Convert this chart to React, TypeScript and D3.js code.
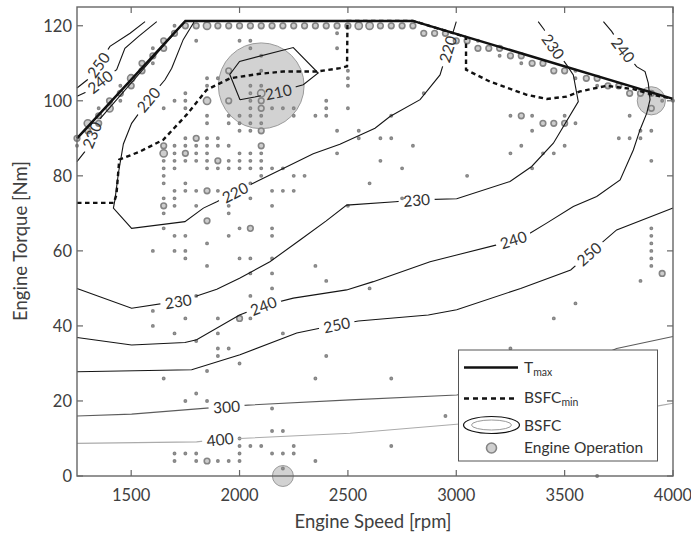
import React from 'react';
import * as d3 from 'd3';

const W = 691;
const H = 538;
const xDomain: [number, number] = [1250, 4000];
const yDomain: [number, number] = [0, 125];
const xTicks = [1500, 2000, 2500, 3000, 3500, 4000];
const yTicks = [0, 20, 40, 60, 80, 100, 120];
const xTitle = 'Engine Speed [rpm]';
const yTitle = 'Engine Torque [Nm]';

// Max torque curve [rpm, Nm]
const tmaxCurve: [number, number][] = [[1250, 90], [1750, 121.3], [2800, 121.3], [4000, 100.5]];

// Minimum BSFC line [rpm, Nm]
const bsfcMinCurve: [number, number][] = [
  [1250, 72.8], [1420, 72.8], [1432, 75], [1445, 84.3], [1541, 86.5], [1648, 89.6], [1756, 96.3],
  [1848, 102.9], [1956, 106], [2094, 107.2], [2202, 107.8], [2356, 107.8], [2463, 108.7],
  [2496, 109.2], [2498, 121.3], [2800, 121.3], [3045, 117], [3045, 108.3], [3156, 105.1],
  [3325, 101.6], [3417, 100.5], [3509, 101.1], [3571, 102.5], [3694, 104], [3817, 103.1],
  [3909, 101.6], [4000, 100.5],
];

// BSFC contour lines [rpm, Nm]
const c210: [number, number][] = [[2002, 100.3], [2070, 101], [2179, 102.4], [2294, 104.3], [2363, 107.4], [2248, 114.2], [2000, 110.5], [1955, 107], [2002, 100.3]];
const c220: [number, number][] = [
  [1790, 121], [1740, 116.3], [1687, 108.7], [1656, 105.6], [1579, 100.3], [1541, 97.1], [1502, 94],
  [1464, 88.5], [1441, 80.7], [1425, 73.6], [1418, 71.4], [1502, 66], [1748, 67.8], [1833, 71.4],
  [1895, 73.1], [1979, 75.6], [2079, 78.5], [2340, 85.9], [2463, 88.4], [2625, 92.7], [2694, 95.8],
  [2833, 100.3], [2925, 106.9], [2960, 113.5], [3000, 121.1],
];
const c230a: [number, number][] = [[1250, 83.8], [1287, 86.5], [1318, 90.9], [1356, 95.2], [1745, 121]];
const c230b: [number, number][] = [
  [1250, 50], [1502, 44.7], [1717, 46.6], [1802, 48], [1895, 49.8], [2000, 52.7], [2140, 57.1],
  [2279, 62.9], [2400, 68], [2494, 72.2], [2718, 73.1], [2817, 73.6], [3002, 73.9], [3248, 78.5],
  [3348, 82.5], [3448, 88.7], [3563, 99.8], [3540, 106.9], [3510, 109.5], [3448, 114.5], [3405, 119],
  [3378, 121.1],
];
const c240a: [number, number][] = [[1250, 101.2], [1298, 102.5], [1356, 105.1], [1433, 108.3], [1471, 114], [1533, 117.1], [1618, 121.1]];
const c240b: [number, number][] = [
  [1250, 36.9], [1502, 34.9], [1748, 35.6], [1802, 36.3], [2000, 42.9], [2110, 45.4], [2248, 47.4],
  [2494, 49.6], [2617, 51.8], [2879, 57.1], [3002, 58.9], [3187, 61.6], [3263, 63], [3340, 64.7],
  [3417, 67.4], [3540, 71.8], [3648, 74.5], [3756, 78.9], [3817, 86.9], [3848, 92.3], [3879, 96.7],
  [3894, 100.3], [3886, 104.7], [3871, 107.8], [3832, 109.1], [3771, 113.6], [3717, 118.5], [3679, 121.1],
];
const c250a: [number, number][] = [[1250, 103.4], [1298, 105.6], [1348, 109.6], [1402, 114.5], [1495, 118], [1564, 121.1]];
const c250b: [number, number][] = [
  [1250, 27.8], [1779, 28.3], [2002, 32.3], [2264, 38.1], [2448, 40.3], [2548, 41.3], [2871, 42.9],
  [3002, 44.3], [3297, 50], [3528, 54.9], [3612, 59.2], [3740, 65.6], [4000, 71.4],
];
const c300: [number, number][] = [[1250, 16], [1502, 16.5], [1848, 18.1], [1940, 18.5], [2040, 18.9], [2510, 20.3], [3002, 21.6], [3400, 26], [3600, 30.5], [3740, 34], [4000, 37.2]];
const c400: [number, number][] = [[1250, 8.7], [1802, 9.1], [1910, 9.8], [2000, 10], [2510, 11.4], [3002, 13.8], [3932, 18.7], [4000, 19.4]];

const contourLevels = [210, 220, 230, 230, 240, 240, 250, 250, 300, 400];
const contourPaths = [c210, c220, c230a, c230b, c240a, c240b, c250a, c250b, c300, c400];

// Contour label anchors: [contour index, rpm, Nm]
const contourLabelAt: [number, number, number][] = [
  [0, 2179, 102.4], [1, 1579, 100.3], [1, 1979, 75.6], [1, 2960, 113.8], [2, 1318, 90.9],
  [3, 1717, 46.6], [3, 2817, 73.6], [3, 3448, 114.5], [4, 1356, 105.1], [5, 2110, 45.4],
  [5, 3263, 63], [5, 3771, 113.6], [6, 1348, 109.6], [7, 2448, 40.3], [7, 3612, 59.2],
  [8, 1940, 18.5], [9, 1910, 9.8],
];

// Engine operating points: [rpm, Nm, frequency weight]
const opPoints: [number, number, number][] = [
  [2100, 104, 1390], [3900, 100, 150], [2200, 0, 83],
  [1700, 120, 1], [1750, 120, 6], [1800, 120, 6], [1850, 120, 10], [1900, 120, 6], [1950, 120, 6],
  [2000, 120, 6], [2050, 120, 6], [2100, 120, 6], [2150, 120, 6], [2200, 120, 6], [2250, 120, 6],
  [2300, 120, 6], [2350, 120, 6], [2400, 120, 6], [2450, 120, 6], [2500, 120, 6], [2550, 120, 10],
  [2600, 120, 10], [2650, 120, 6], [2700, 120, 6], [2750, 120, 6], [2800, 120, 6],
  [2850, 118, 6], [2900, 118, 6], [2950, 118, 6], [3000, 116, 6], [3050, 116, 6], [3100, 116, 1],
  [3100, 114, 6], [3150, 114, 6], [3200, 114, 6], [3200, 112, 1], [3250, 112, 6], [3300, 112, 6],
  [3300, 110, 1], [3350, 110, 6], [3400, 110, 6], [3450, 108, 6], [3500, 108, 6], [3550, 108, 1],
  [3550, 106, 1], [3600, 106, 6], [3650, 106, 6], [3650, 104, 1], [3700, 104, 6], [3750, 104, 6],
  [3800, 102, 6], [3850, 102, 6], [3900, 102, 6], [3900, 98, 6], [3950, 100, 1], [4000, 100, 1],
  [3800, 96, 1], [3850, 92, 1], [3900, 92, 1], [3750, 90, 1], [3800, 90, 1], [3850, 90, 1],
  [3900, 84, 1], [3250, 96, 1], [3300, 96, 6], [3350, 96, 1], [3500, 96, 1], [3400, 94, 6],
  [3450, 94, 6], [3500, 94, 6], [3550, 94, 1], [3350, 92, 1], [3300, 88, 1], [3500, 88, 1],
  [3250, 86, 1], [3400, 86, 1], [3450, 86, 1], [3350, 82, 1], [3050, 80, 1], [2850, 102, 1],
  [2700, 96, 1], [2550, 92, 1], [2550, 90, 1], [2650, 90, 1], [2700, 90, 1], [2800, 88, 1],
  [2650, 84, 1], [2750, 82, 1], [2600, 78, 1], [2750, 74, 1], [2500, 108, 1], [2500, 106, 1],
  [2500, 104, 1], [2500, 98, 1], [2450, 118, 1], [2450, 114, 1], [2400, 100, 1], [2400, 98, 1],
  [2400, 96, 1], [2350, 96, 1], [2250, 96, 1], [2450, 92, 1], [2450, 86, 1], [2250, 80, 1],
  [2300, 80, 1], [2250, 76, 1], [2500, 72, 1],
  [3900, 66, 1], [3900, 64, 1], [3900, 62, 1], [3900, 60, 1], [3900, 58, 1], [3900, 56, 1],
  [3950, 54, 6], [3850, 52, 1], [3550, 46, 1], [3450, 42, 1], [3250, 34, 1], [2600, 50, 1],
  [2700, 26, 1], [2950, 16, 1], [2700, 8, 1], [3650, 0, 1],
  [1800, 116, 1], [2000, 116, 1], [2050, 116, 1], [2050, 114, 1], [2100, 112, 1], [1950, 108, 6],
  [2100, 108, 1], [1850, 106, 1], [1900, 106, 1], [1850, 104, 1], [2050, 104, 1], [2100, 104, 1],
  [1750, 102, 1], [2050, 102, 1], [2100, 102, 10], [1700, 100, 1], [1750, 100, 1], [1850, 100, 10],
  [1950, 100, 6], [2050, 100, 1], [2100, 100, 6], [1650, 98, 1], [1750, 98, 1], [2050, 98, 1],
  [2100, 98, 6], [2150, 98, 1], [2200, 98, 1], [2250, 98, 1],
  [1850, 96, 1], [1950, 96, 1], [2000, 96, 1], [2050, 96, 1], [2100, 96, 1],
  [1850, 94, 1], [1950, 94, 1], [2000, 94, 1], [2050, 94, 1], [2100, 94, 1],
  [2000, 92, 1], [2050, 92, 1], [2100, 92, 6],
  [1750, 90, 1], [1800, 90, 6], [1850, 90, 1], [1900, 90, 1],
  [1650, 88, 6], [1700, 88, 1], [1750, 88, 1], [1800, 88, 1], [1850, 88, 1], [1900, 88, 1],
  [1950, 88, 1], [2100, 88, 6],
  [1650, 86, 10], [1700, 86, 1], [1750, 86, 6], [1800, 86, 1], [1850, 86, 1], [2000, 86, 1],
  [2050, 86, 1], [2100, 86, 1],
  [1650, 84, 1], [1700, 84, 1], [1750, 84, 1], [1800, 84, 1], [1850, 84, 1], [1900, 84, 6],
  [1950, 84, 1], [2000, 84, 1], [2050, 84, 1], [2100, 84, 1],
  [1650, 82, 1], [1700, 82, 1], [1850, 82, 1], [1900, 82, 1], [1950, 82, 1], [2000, 82, 1],
  [2050, 82, 1], [2100, 82, 1], [2150, 82, 1], [2200, 82, 1],
  [1650, 80, 1], [2100, 80, 1], [1650, 78, 1], [1750, 78, 1], [2050, 78, 1],
  [1700, 76, 1], [1750, 76, 1], [1800, 76, 1], [1850, 76, 6], [1900, 76, 1], [2150, 76, 1], [2200, 76, 1],
  [1650, 74, 1], [1700, 74, 1], [2050, 74, 1],
  [1650, 72, 6], [1700, 72, 1], [1800, 72, 1], [1950, 72, 1], [2150, 72, 1],
  [1650, 70, 1], [1950, 70, 1], [1850, 68, 6],
  [1650, 66, 1], [2000, 66, 1], [2050, 66, 6], [2150, 66, 1],
  [1700, 64, 1], [1750, 64, 1], [1950, 64, 1], [2150, 64, 1], [1850, 62, 1],
  [1600, 60, 1], [1700, 60, 1], [1750, 60, 1], [1750, 58, 1], [2000, 58, 1], [2050, 58, 1], [2150, 58, 1],
  [1850, 56, 1], [2350, 56, 1], [2050, 54, 1], [2150, 54, 1], [2400, 52, 1], [2150, 50, 1],
  [1800, 48, 1], [2050, 48, 1], [1600, 44, 1], [1750, 42, 1], [1900, 42, 1], [2000, 42, 6], [2050, 42, 1],
  [1600, 40, 1], [1700, 38, 1], [1900, 38, 1], [2200, 38, 1], [1800, 36, 1], [1900, 34, 1], [1950, 34, 1],
  [1900, 32, 1], [2400, 32, 1], [2000, 30, 1], [1850, 28, 1], [1650, 26, 1], [2350, 26, 1],
  [1800, 22, 1], [1750, 20, 1], [1850, 20, 1], [2150, 18, 1], [2150, 12, 1], [2200, 12, 1],
  [2000, 10, 1], [2000, 8, 1], [2050, 8, 1], [2100, 8, 1], [2250, 8, 1],
  [1700, 6, 1], [1750, 6, 1], [1800, 6, 1], [2000, 6, 1], [2150, 6, 1], [2200, 6, 1], [2250, 6, 1],
  [1700, 4, 1], [1800, 4, 1], [1850, 4, 6], [1900, 4, 1], [1950, 4, 1], [2000, 4, 1], [2350, 4, 1],
  [2200, 2, 1],
  [1250, 90, 6], [1250, 88, 1], [1300, 94, 10], [1300, 92, 6], [1350, 98, 1], [1350, 96, 6],
  [1350, 94, 6], [1400, 100, 6], [1400, 98, 10], [1450, 104, 1], [1450, 102, 6], [1450, 100, 1],
  [1500, 106, 10], [1500, 104, 6], [1550, 110, 6], [1550, 108, 6], [1600, 114, 1], [1600, 112, 6],
  [1600, 110, 1], [1650, 116, 6], [1650, 114, 6], [1700, 118, 6],
];

const FONT = 'Lato, "Open Sans", sans-serif';

export default function App() {
  const x = d3.scaleLinear().domain(xDomain).range([77, 673]);
  const y = d3.scaleLinear().domain(yDomain).range([476, 7]);
  const r = d3.scaleSqrt().domain([0, 1]).range([0, 1.15]);
  const line = d3.line<[number, number]>().x((d) => x(d[0])).y((d) => y(d[1]));
  const contourColor = (lv: number) => (lv <= 250 ? '#151515' : lv === 300 ? '#5c5c5c' : '#ababab');

  const labels = contourLabelAt.map(([ci, rpm, tq]) => {
    const pts = contourPaths[ci].map((p) => [x(p[0]), y(p[1])]);
    const px = x(rpm);
    const py = y(tq);
    let best = Infinity;
    let ang = 0;
    for (let i = 0; i < pts.length - 1; i++) {
      const [x1, y1] = pts[i];
      const [x2, y2] = pts[i + 1];
      const dx = x2 - x1;
      const dy = y2 - y1;
      const L = dx * dx + dy * dy || 1;
      let t = ((px - x1) * dx + (py - y1) * dy) / L;
      t = Math.max(0, Math.min(1, t));
      const d = Math.hypot(px - (x1 + t * dx), py - (y1 + t * dy));
      if (d < best) {
        best = d;
        ang = (Math.atan2(dy, dx) * 180) / Math.PI;
      }
    }
    if (ang > 90) ang -= 180;
    if (ang < -90) ang += 180;
    return { level: contourLevels[ci], px, py, ang };
  });

  const sortedOps = [...opPoints].sort((a, b) => b[2] - a[2]);

  return (
    <svg width={W} height={H} style={{ position: 'absolute', left: 0, top: 0 }} fontFamily={FONT}>
      <rect x={0} y={0} width={W} height={H} fill="#fff" />
      <defs>
        <mask id="lblMask" maskUnits="userSpaceOnUse" x={0} y={0} width={W} height={H}>
          <rect x={0} y={0} width={W} height={H} fill="#fff" />
          {labels.map((l, i) => (
            <rect key={i} x={-18} y={-7.5} width={36} height={15} fill="#000"
              transform={`translate(${l.px},${l.py}) rotate(${l.ang})`} />
          ))}
        </mask>
      </defs>

      {/* Engine operation bubbles */}
      <g>
        {sortedOps.map((d, i) => {
          const big = d[2] > 20;
          return (
            <circle key={i} cx={x(d[0])} cy={y(d[1])} r={r(d[2])}
              fill={big ? '#d2d2d2' : '#cdcdcd'} stroke={big ? '#9a9a9a' : '#858585'}
              strokeWidth={big ? 1 : 1.6} />
          );
        })}
      </g>

      {/* BSFC contours */}
      <g mask="url(#lblMask)" fill="none">
        {contourPaths.map((c, i) => (
          <path key={i} d={line(c) || ''} stroke={contourColor(contourLevels[i])} strokeWidth={1.1} />
        ))}
      </g>
      <g>
        {labels.map((l, i) => (
          <text key={i} transform={`translate(${l.px},${l.py}) rotate(${l.ang})`} textAnchor="middle"
            dominantBaseline="central" fontSize={15.5} fill="#333">{l.level}</text>
        ))}
      </g>

      {/* Tmax and BSFCmin */}
      <path d={line(bsfcMinCurve) || ''} fill="none" stroke="#111" strokeWidth={2.4} strokeDasharray="4.5 3.5" />
      <path d={line(tmaxCurve) || ''} fill="none" stroke="#111" strokeWidth={2.5} />

      {/* Frame and ticks */}
      <rect x={77} y={7} width={596} height={469} fill="none" stroke="#666" strokeWidth={1.4} />
      {xTicks.map((t) => (
        <g key={'x' + t}>
          <line x1={x(t)} x2={x(t)} y1={476} y2={470} stroke="#666" strokeWidth={1.2} />
          <line x1={x(t)} x2={x(t)} y1={7} y2={13} stroke="#666" strokeWidth={1.2} />
          <text x={x(t)} y={501} textAnchor="middle" fontSize={16.5} fill="#404040">{t}</text>
        </g>
      ))}
      {yTicks.map((t) => (
        <g key={'y' + t}>
          <line x1={77} x2={83} y1={y(t)} y2={y(t)} stroke="#666" strokeWidth={1.2} />
          <line x1={673} x2={667} y1={y(t)} y2={y(t)} stroke="#666" strokeWidth={1.2} />
          <text x={72} y={y(t)} textAnchor="end" dominantBaseline="central" fontSize={16.5} fill="#404040">{t}</text>
        </g>
      ))}
      <text x={373} y={528} textAnchor="middle" fontSize={18.5} fill="#404040">{xTitle}</text>
      <text transform="translate(27,241) rotate(-90)" textAnchor="middle" fontSize={18.5} fill="#404040">{yTitle}</text>

      {/* Legend */}
      <g>
        <rect x={458.5} y={350} width={199} height={111} fill="#fff" stroke="#555" strokeWidth={1} />
        <line x1={464} x2={518} y1={367.5} y2={367.5} stroke="#111" strokeWidth={2.5} />
        <text x={524} y={373} fontSize={15.5} fill="#333">T<tspan fontSize={10.5} dy={3}>max</tspan></text>
        <line x1={464} x2={518} y1={398.5} y2={398.5} stroke="#111" strokeWidth={2.4} strokeDasharray="5 4" />
        <text x={524} y={403} fontSize={15.5} fill="#333">BSFC<tspan fontSize={10.5} dy={3}>min</tspan></text>
        <ellipse cx={491.5} cy={425} rx={28} ry={8.5} fill="none" stroke="#111" strokeWidth={1.2} />
        <ellipse cx={491.5} cy={425} rx={20} ry={5} fill="none" stroke="#999" strokeWidth={1} />
        <text x={524} y={430.5} fontSize={15.5} fill="#333">BSFC</text>
        <circle cx={491.5} cy={448} r={5} fill="#cfcfcf" stroke="#858585" strokeWidth={1.6} />
        <text x={524} y={452.5} fontSize={15.5} fill="#333">Engine Operation</text>
      </g>
    </svg>
  );
}
